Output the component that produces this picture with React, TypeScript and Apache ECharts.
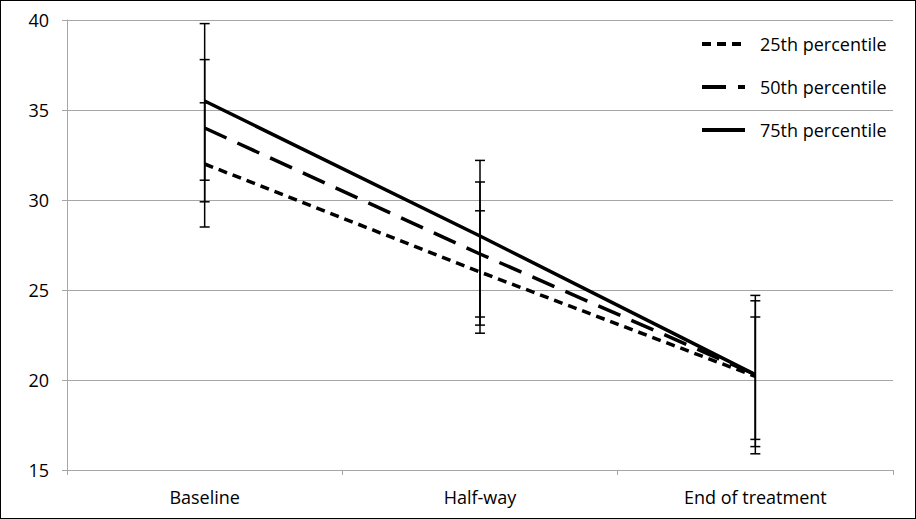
import React, { useEffect, useRef } from "react";
import * as echarts from "echarts";

const categories = ["Baseline", "Half-way", "End of treatment"];
const seriesNames = ["25th percentile", "50th percentile", "75th percentile"];
const p25 = [32.0, 26.0, 20.2];
const p50 = [34.0, 27.0, 20.3];
const p75 = [35.5, 28.0, 20.3];
// error bar ranges [low, high] per category
const p25Err = [[28.5, 35.4], [22.6, 29.4], [16.7, 23.5]];
const p50Err = [[29.9, 37.8], [23.05, 31.0], [16.3, 24.4]];
const p75Err = [[31.1, 39.8], [23.5, 32.2], [15.9, 24.7]];
const yTicks = { min: 15, max: 40, interval: 5 };

const FONT = "'Open Sans', 'Liberation Sans', Arial, sans-serif";

function errSeries(name: string, ranges: number[][]) {
  return {
    name,
    type: "custom",
    silent: true,
    z: 5,
    encode: { x: 0, y: [1, 2] },
    data: ranges.map((r, i) => [i, r[0], r[1]]),
    renderItem: (params: any, api: any) => {
      const x = api.value(0);
      const lo = api.coord([x, api.value(1)]);
      const hi = api.coord([x, api.value(2)]);
      const w = 5;
      const st = { stroke: "#000", lineWidth: 1.5 };
      return {
        type: "group",
        children: [
          { type: "line", shape: { x1: lo[0], y1: lo[1], x2: hi[0], y2: hi[1] }, style: st },
          { type: "line", shape: { x1: lo[0] - w, y1: lo[1], x2: lo[0] + w, y2: lo[1] }, style: st },
          { type: "line", shape: { x1: hi[0] - w, y1: hi[1], x2: hi[0] + w, y2: hi[1] }, style: st },
        ],
      };
    },
  };
}

export default function App() {
  const ref = useRef<HTMLDivElement>(null);
  useEffect(() => {
    document.body.style.margin = "0";
    const chart = echarts.init(ref.current!, null, { renderer: "svg" });
    chart.setOption({
      animation: false,
      textStyle: { fontFamily: FONT, color: "#000" },
      grid: { left: 66, top: 19, right: 22, bottom: 48 },
      legend: {
        orient: "vertical",
        left: 694,
        top: 29,
        itemWidth: 43,
        itemHeight: 16,
        itemGap: 25,
        data: seriesNames,
        itemStyle: { opacity: 0 },
        lineStyle: { width: 4 },
        textStyle: { fontFamily: FONT, fontSize: 18, color: "#000", padding: [0, 0, 0, 10] },
      },
      xAxis: {
        type: "category",
        data: categories,
        boundaryGap: true,
        axisLine: { lineStyle: { color: "#a6a6a6", width: 1 } },
        axisTick: { show: true, length: 5, lineStyle: { color: "#a6a6a6" } },
        axisLabel: { fontFamily: FONT, fontSize: 18, color: "#000", margin: 18 },
      },
      yAxis: {
        type: "value",
        min: yTicks.min,
        max: yTicks.max,
        interval: yTicks.interval,
        axisLine: { show: true, lineStyle: { color: "#a6a6a6", width: 1 } },
        axisTick: { show: true, length: 5, lineStyle: { color: "#a6a6a6" } },
        splitLine: { show: true, lineStyle: { color: "#a6a6a6", width: 1 } },
        axisLabel: { fontFamily: FONT, fontSize: 18, color: "#000", margin: 18 },
      },
      series: [
        {
          name: seriesNames[0],
          type: "line",
          data: p25,
          symbol: "none",
          z: 3,
          lineStyle: { color: "#000", width: 3.5, type: [9, 6] },
          itemStyle: { color: "#000" },
        },
        {
          name: seriesNames[1],
          type: "line",
          data: p50,
          symbol: "none",
          z: 3,
          lineStyle: { color: "#000", width: 3.5, type: [24, 12] },
          itemStyle: { color: "#000" },
        },
        {
          name: seriesNames[2],
          type: "line",
          data: p75,
          symbol: "none",
          z: 3,
          lineStyle: { color: "#000", width: 3.5, type: "solid" },
          itemStyle: { color: "#000" },
        },
        errSeries("err25", p25Err),
        errSeries("err50", p50Err),
        errSeries("err75", p75Err),
      ],
    });
    return () => chart.dispose();
  }, []);
  return (
    <div style={{ width: 916, height: 519, boxSizing: "border-box", border: "1px solid #000" }}>
      <div ref={ref} style={{ width: 914, height: 517 }} />
    </div>
  );
}
